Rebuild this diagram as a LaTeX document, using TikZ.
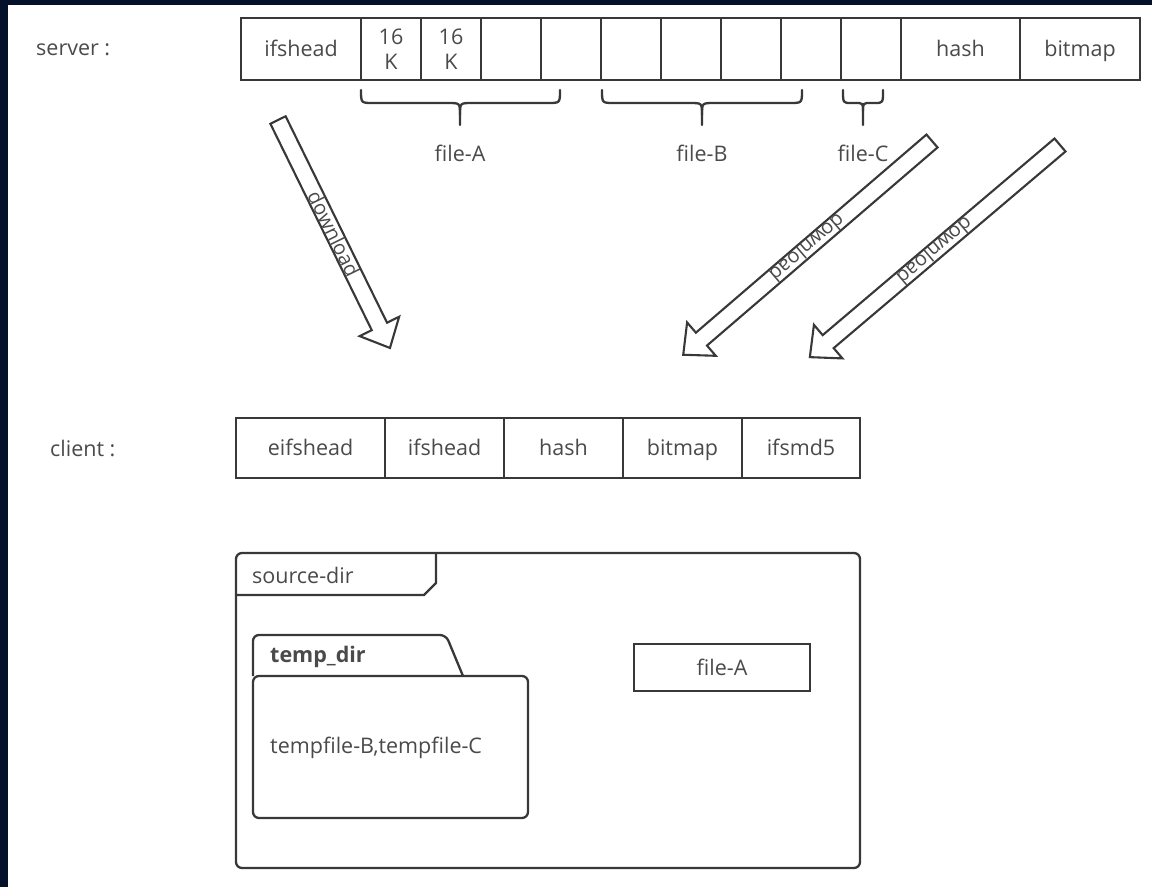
\documentclass[tikz,border=0pt]{standalone}
\usepackage{fontspec}
\setmainfont{Open Sans}
\definecolor{framec}{HTML}{04112A}
\definecolor{linec}{HTML}{383838}
\definecolor{textc}{HTML}{4A4A4A}
\tikzset{
  txt/.style={text=textc, font=\fontsize{21.5}{25}\selectfont, inner sep=0pt},
  boxbase/.style={txt, draw=linec, line width=2.3pt, minimum height=62pt, inner sep=0pt, outer sep=0pt},
  cell/.style={boxbase, text height=15.5pt, text depth=0pt},
  kcell/.style={boxbase, minimum width=60pt, align=center},
  crow/.style={cell, minimum height=60pt},
  bracec/.style={draw=linec, line width=2.3pt, line cap=round},
  blk/.style={draw=linec, line width=2.1pt, fill=white, line join=miter},
  frm/.style={draw=linec, line width=2.3pt},
  dltext/.style={txt, font=\fontsize{20}{24}\selectfont},
}
\newcommand\blockarr[3]{%
  \begin{scope}[shift={#1}, rotate=#2]
    \draw[blk] (0,-8.5) -- ({#3-24},-8.5) -- ({#3-24},-22) -- (#3,0) -- ({#3-24},22) -- ({#3-24},8.5) -- (0,8.5) -- cycle;
  \end{scope}}
\newcommand\filebrace[4]{%
  \draw[bracec] (#1,-90) .. controls (#1,-103) .. ({#1+#4},-103) -- ({#2-#4},-103) .. controls (#2,-103) .. (#2,{-103-#4}) -- (#2,-125);
  \draw[bracec] (#3,-90) .. controls (#3,-103) .. ({#3-#4},-103) -- ({#2+#4},-103) .. controls (#2,-103) .. (#2,{-103-#4});}
\begin{document}
\begin{tikzpicture}[x=1pt,y=1pt]
\useasboundingbox (0,0) rectangle (1152,-887);
\fill[white] (0,0) rectangle (1152,-887);
\fill[framec] (0,0) rectangle (8,-887);
\fill[framec] (0,0) rectangle (1152,-5);

% server row
\node[txt, anchor=west] (srv) at (36,-50) {server :};
\node[cell, minimum width=120pt] (s0) at (301,-49) {ifshead};
\node[kcell] (s1) at (391,-49) {16\\K};
\node[kcell] (s2) at (451,-49) {16\\K};
\node[cell, minimum width=60pt] (s3) at (511,-49) {};
\node[cell, minimum width=60pt] (s4) at (571,-49) {};
\node[cell, minimum width=60pt] (s5) at (631,-49) {};
\node[cell, minimum width=60pt] (s6) at (691,-49) {};
\node[cell, minimum width=60pt] (s7) at (751,-49) {};
\node[cell, minimum width=60pt] (s8) at (811,-49) {};
\node[cell, minimum width=60pt] (s9) at (871,-49) {};
\node[cell, minimum width=119pt] (shash) at (960.5,-49) {hash};
\node[cell, minimum width=120pt] (sbit) at (1080,-49) {bitmap};

% braces
\filebrace{361}{460}{560}{12}
\filebrace{602}{702}{802}{12}
\filebrace{843}{863}{883}{8}
\node[txt] (la) at (460,-153) {file-A};
\node[txt] (lb) at (702,-153) {file-B};
\node[txt] (lc) at (863,-153) {file-C};

% block arrows
\blockarr{(278,-120)}{-63.84}{254}
\blockarr{(932,-141)}{-139.33}{328}
\blockarr{(1060,-145)}{-139.7}{328}
\node[dltext, rotate=-63.84] (d1) at (334,-234) {download};
\node[dltext, rotate=-139.33] (d2) at (807.5,-248) {download};
\node[dltext, rotate=-139.7] (d3) at (935,-251) {download};

% client row
\node[txt, anchor=west] (cli) at (50,-448) {client :};
\node[crow, minimum width=149pt] (c0) at (310.5,-448) {eifshead};
\node[crow, minimum width=119pt] (c1) at (444.5,-448) {ifshead};
\node[crow, minimum width=119pt] (c2) at (563.5,-448) {hash};
\node[crow, minimum width=119pt] (c3) at (682.5,-448) {bitmap};
\node[crow, minimum width=118pt] (c4) at (801,-448) {ifsmd5};

% source-dir frame
\draw[frm, rounded corners=6] (236,-553) rectangle (860,-868);
\draw[frm] (236,-595) -- (424,-595) -- (436,-583) -- (436,-553);
\node[txt, anchor=west] (src) at (252,-575) {source-dir};

% temp_dir folder
\draw[frm, rounded corners=6] (253,-676) rectangle (528,-818);
\draw[frm, rounded corners=6] (253,-676) -- (253,-635) -- (446,-635) -- (463,-676);
\node[txt, font=\fontsize{21.5}{25}\selectfont\bfseries, anchor=west] (tmp) at (270,-657) {temp\_dir};
\node[txt, anchor=west] (tf) at (270,-748) {tempfile-B,tempfile-C};

% file-A
\node[cell, minimum width=176pt, minimum height=47pt] (fa) at (722,-667.5) {file-A};
\end{tikzpicture}
\end{document}
